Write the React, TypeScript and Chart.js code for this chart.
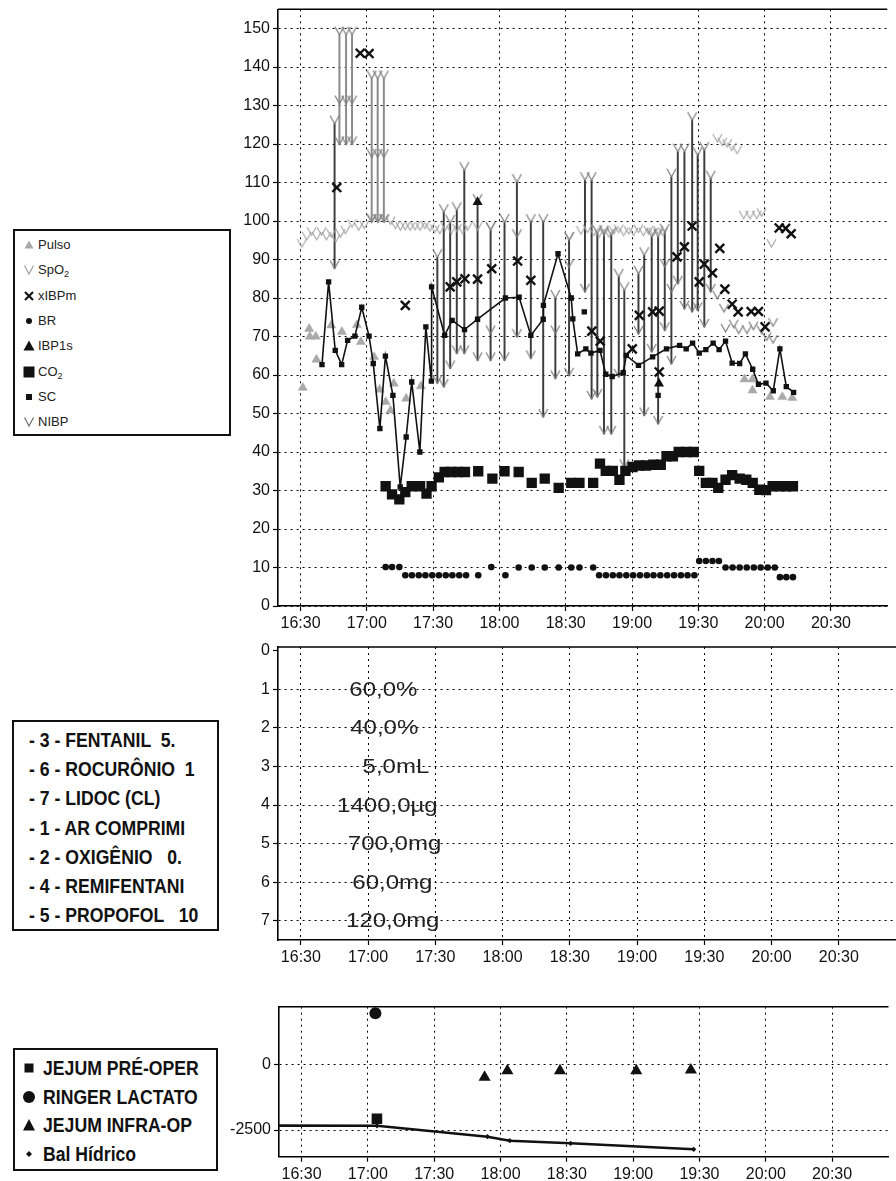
import React, { useEffect, useRef } from "react";
import { Chart, registerables } from "chart.js";

Chart.register(...registerables);

const FONT = "'Liberation Sans', Arial, Helvetica, sans-serif";

// time axis: minutes after 16:00
const X_MIN = 19.8;
const X_MAX = 295.5;
const TIME_TICKS = [30, 60, 90, 120, 150, 180, 210, 240, 270];
const VITAL_TICKS = [0, 10, 20, 30, 40, 50, 60, 70, 80, 90, 100, 110, 120, 130, 140, 150];
const DRUG_TICKS = [0, 1, 2, 3, 4, 5, 6, 7];
const BAL_TICKS = [-2500, 0];

type P = [number, number];

const PULSO: P[] = [
  [31.0, 56.7], [33.9, 72], [34.2, 70], [36.9, 70], [37.2, 64], [43.9, 72.9], [48.7, 71.2],
  [55.5, 73], [57.3, 68.6], [63.3, 64.7], [65.8, 56.2], [68.5, 53], [70.7, 50.8], [72.2, 57.8],
  [77.8, 53.9], [84.5, 57.1], [230.9, 58.9], [234.5, 58.9], [234.5, 56], [242.4, 54.3],
  [248.0, 54.3], [252.5, 54.1],
];

const SPO2: P[] = [
  [30.6, 93.2], [32.8, 95.1], [35.0, 96.3], [37.3, 95.1], [39.5, 96.3], [41.7, 95.1], [43.9, 95.8],
  [45.9, 94.5], [48.1, 95.8], [50.3, 96.7], [53.3, 98.4], [56.3, 97.6], [58.8, 98], [62.2, 99.7],
  [65.2, 99.7], [68.2, 99.7], [70.7, 99.1], [72.9, 98], [75.2, 97.6], [77.4, 97.7], [79.6, 97.6],
  [81.8, 97.7], [84.1, 97.6], [86.3, 98], [88.5, 97.4], [90.8, 97], [93.0, 96.7], [95.5, 97.6],
  [98.2, 96.7], [100.8, 97.2], [103.4, 96.7], [105.6, 97.6], [110.1, 97.6], [116.0, 97.7],
  [151.7, 95.1], [156.9, 96.6], [159.9, 97], [162.8, 96.2], [165.1, 95.8], [167.3, 96.2],
  [169.5, 95.8], [171.8, 96.6], [174.0, 97], [176.2, 96.2], [178.5, 96.6], [180.7, 96.2],
  [182.9, 97], [185.1, 96.2], [187.4, 96.6], [189.6, 96.2], [191.8, 96.6], [194.0, 96.2],
  [218.6, 120.5], [220.8, 119.6], [223.0, 119.2], [225.2, 118.3], [227.5, 117.5],
  [230.5, 100.6], [233.4, 100.6], [236.4, 100.6], [238.6, 101.2], [243.1, 93.2],
];

const XIBPM: P[] = [
  [46.4, 108.7], [57.0, 143.6], [61.0, 143.5], [77.4, 78.1], [97.7, 82.9], [100.7, 84.2],
  [104.4, 85], [110.1, 84.9], [116.5, 87.6], [128.2, 89.6], [134.2, 84.6], [161.8, 71.4],
  [165.6, 68.8], [180.1, 66.8], [183.3, 75.5], [189.3, 76.4], [192.3, 76.6], [192.3, 60.8],
  [200.3, 90.7], [203.7, 93.3], [207.2, 98.7], [210.4, 84.2], [212.7, 88.8], [216.4, 86.5],
  [219.7, 92.9], [222.0, 82.3], [225.3, 78.4], [228.0, 76.4], [233.9, 76.5], [237.2, 76.5],
  [240.2, 72.5], [246.6, 98.2], [249.5, 98.1], [252.0, 96.7],
];

const BR: P[] = [
  [68.5, 10.1], [71.4, 10.1], [74.7, 10.1],
  [77.4, 8], [80.4, 8], [83.5, 8], [86.5, 8], [89.6, 8], [92.6, 8], [95.7, 8], [98.7, 8], [101.8, 8], [104.9, 8],
  [110.4, 8], [116.3, 10.1], [122.7, 8], [128.7, 10], [134.6, 10], [140.5, 10], [146.8, 10],
  [152.5, 10], [156.2, 10], [162.4, 10],
  [165.1, 8], [168.2, 8], [171.3, 8], [174.3, 8], [177.4, 8], [180.5, 8], [183.6, 8], [186.7, 8],
  [189.7, 8], [192.8, 8], [195.9, 8], [199.0, 8], [202.1, 8], [205.1, 8], [208.2, 8],
  [210.4, 11.7], [213.4, 11.7], [216.4, 11.7], [219.3, 11.7],
  [222.3, 10], [225.5, 10], [228.7, 10], [231.9, 10], [235.1, 10], [238.2, 10], [241.4, 10], [244.6, 10],
  [246.9, 7.5], [249.8, 7.5], [252.8, 7.5],
];

const IBP1S: P[] = [[110.1, 104.9], [192.2, 57.8]];

const CO2: P[] = [
  [68.5, 31.1], [71.4, 29], [74.7, 27.7], [77.4, 29.6], [80.3, 31.1], [84.1, 31.1], [87.0, 29.2],
  [89.3, 31.1], [92.6, 33.4], [95.2, 34.8], [98.2, 34.8], [101.2, 34.8], [104.4, 34.8], [110.4, 35],
  [116.8, 33.1], [122.3, 35], [128.7, 34.8], [134.6, 32], [140.5, 33.1], [146.8, 30.7], [152.5, 32],
  [156.2, 32], [162.4, 32], [165.5, 37], [168.1, 35.1], [171.3, 35.1], [174.3, 32.8], [177.0, 35.1],
  [180.2, 36.1], [183.2, 36.5], [186.3, 36.5], [189.6, 36.7], [193.0, 36.7], [195.6, 38.9],
  [198.5, 38.9], [201.1, 40], [204.5, 40], [207.9, 40], [210.4, 35.1], [213.4, 32], [216.4, 32],
  [219.0, 30.7], [222.3, 32.8], [225.3, 34], [228.7, 33.1], [231.7, 32.8], [234.6, 32], [237.6, 30.2],
  [240.6, 30.1], [243.6, 31.1], [246.9, 31.1], [249.8, 31.1], [252.8, 31.1],
];

const SC: P[] = [
  [39.7, 62.7], [42.7, 84.2], [45.7, 66.4], [48.6, 62.7], [51.3, 69], [54.6, 70.1], [57.7, 77.6],
  [61.0, 70.1], [62.9, 63], [65.9, 46.1], [68.4, 64.9], [71.8, 54.7], [75.1, 30.9], [77.8, 43.9],
  [80.3, 58.2], [84.0, 40], [86.7, 72.5], [89.2, 58.4], [89.3, 82.9], [95.2, 70.3], [98.6, 74.2],
  [104.2, 71.8], [110.1, 74.5], [122.7, 80], [128.9, 80.2], [134.2, 70.3], [139.8, 74.5],
  [139.9, 78.1], [146.5, 91.5], [152.5, 80], [153.2, 74.6], [155.4, 65.5], [159.1, 66.8],
  [161.4, 65.7], [165.5, 66.4], [168.1, 60.2], [171.0, 59.6], [176.0, 60.6], [177.4, 65.1],
  [182.9, 62.5], [189.3, 64.7], [195.6, 66.8], [201.5, 67.7], [204.5, 66.8], [207.4, 68.3],
  [210.4, 65.7], [213.4, 66.6], [216.7, 68.3], [219.4, 66.6], [222.3, 68.8], [225.3, 63.1],
  [228.7, 63], [231.3, 65.5], [234.6, 61.5], [237.2, 57.6], [240.6, 57.9], [243.9, 55.9],
  [246.9, 66.8], [249.8, 57], [253.1, 55.5],
];

const SC_ALONE: P[] = [[158.4, 76.4], [191.8, 54.7]];

// time, systolic, diastolic
const NIBP: [number, number, number][] = [
  [45.4, 125.3, 87.7], [47.6, 148.4, 119.9], [50.6, 148.4, 119.9], [53.3, 148.4, 119.9],
  [62.2, 137, 99.7], [64.9, 137, 99.7], [67.7, 137, 99.7], [91.9, 90.6, 57.9], [94.8, 102.3, 56.9],
  [97.7, 99.5, 61.7], [100.7, 102.8, 65.6], [104.1, 113.2, 65.6], [110.1, 104.9, 63.8],
  [116.0, 97.6, 63.8], [122.3, 99.7, 63.8], [127.9, 110.1, 69.9], [134.2, 99.7, 64.3],
  [139.8, 99.7, 49.1], [145.3, 80, 59.1], [151.5, 95, 59.8], [158.7, 110.6, 81.6],
  [161.7, 110.6, 53.8], [164.3, 96.8, 54.3], [167.3, 96.8, 44.7], [170.6, 96.3, 44.7],
  [174.0, 85.5, 59.5], [176.5, 82, 36], [182.9, 86.3, 70.7], [185.5, 91.1, 49.5],
  [188.9, 95.9, 66], [191.8, 95.9, 47.3], [194.8, 97.2, 71.6], [197.8, 111.5, 62.9],
  [200.7, 118, 83.7], [203.7, 118, 77.2], [207.2, 126.2, 76.4], [209.7, 117.1, 76.8],
  [212.7, 118.4, 72.5], [215.6, 111, 81.6],
];

const NIBP_MID: P[] = [
  [47.6, 130.5], [50.6, 130.5], [53.3, 130.5], [62.2, 116.6], [64.9, 116.6], [67.7, 116.6],
  [116.0, 70.8], [127.9, 95.8], [145.3, 70.8], [151.5, 88], [194.8, 88.1], [197.8, 81.6],
  [218.6, 79.8], [221.6, 76.4], [222.3, 71.2], [226.0, 72.3], [228.3, 70.8], [232.0, 70.8],
  [234.9, 71.8], [238.6, 70.8], [240.9, 69], [243.8, 72.7], [243.8, 68.3],
];

const DRUG_TEXT = ["60,0%", "40,0%", "5,0mL", "1400,0µg", "700,0mg", "60,0mg", "120,0mg"];
const DRUG_TIME = [66.8, 67.2, 72.4, 68.6, 71.8, 70.8, 71.0];
const DRUG_ROW = [1, 2, 3, 4, 5, 6, 7];

const BAL: P[] = [[-10, -2330], [64.1, -2340], [114.1, -2755], [124.2, -2907], [151.7, -3006], [207.4, -3234]];
const RINGER: P[] = [[63.4, 1940]];
const JEJUM_PRE: P[] = [[64.1, -2070]];
const JEJUM_INFRA: P[] = [[112.8, -495], [123.1, -243], [146.9, -243], [181.4, -243], [206.1, -217]];

const LEGEND_DRUGS = [
  "- 3 - FENTANIL  5.",
  "- 6 - ROCURÔNIO  1",
  "- 7 - LIDOC (CL)",
  "- 1 - AR COMPRIMI",
  "- 2 - OXIGÊNIO   0.",
  "- 4 - REMIFENTANI",
  "- 5 - PROPOFOL   10",
];
const LEGEND_FLUIDS = ["JEJUM PRÉ-OPER", "RINGER LACTATO", "JEJUM INFRA-OP", "Bal Hídrico"];

const pts = (a: P[]) => a.map(([x, y]) => ({ x, y }));

const fmtTime = (v: number) => {
  const h = 16 + Math.floor(v / 60);
  const m = Math.round(v - Math.floor(v / 60) * 60);
  return `${h}:${String(m).padStart(2, "0")}`;
};

function makeV(color: string, w: number, h: number, lw: number) {
  const c = document.createElement("canvas");
  c.width = w + 2;
  c.height = 2 * h + 2;
  const g = c.getContext("2d")!;
  g.strokeStyle = color;
  g.lineWidth = lw;
  g.beginPath();
  g.moveTo(1, 1);
  g.lineTo(w / 2 + 1, h + 1);
  g.lineTo(w + 1, 1);
  g.stroke();
  return c;
}

const GRID_DASH = [2, 4];

function timeAxis(height: number) {
  return {
    type: "linear",
    min: X_MIN,
    max: X_MAX,
    offset: false,
    afterBuildTicks: (ax: any) => {
      ax.ticks = TIME_TICKS.map((value) => ({ value }));
    },
    afterFit: (ax: any) => {
      ax.height = height;
      ax.paddingLeft = 0;
      ax.paddingRight = 0;
    },
    ticks: {
      autoSkip: false,
      maxRotation: 0,
      padding: 3,
      color: "#111",
      font: { family: FONT, size: 16 },
      callback: (v: any) => fmtTime(Number(v)),
    },
    grid: { color: "#000", lineWidth: 1, tickLength: 5, tickColor: "#000", tickWidth: 1.2, offset: false },
    border: { color: "#000", width: 1.6, dash: GRID_DASH },
  };
}

function valueAxis(min: number, max: number, ticks: number[], extra: any = {}) {
  return {
    type: "linear",
    min,
    max,
    afterBuildTicks: (ax: any) => {
      ax.ticks = ticks.map((value) => ({ value }));
    },
    afterFit: (ax: any) => {
      ax.width = 78;
      ax.paddingTop = 0;
      ax.paddingBottom = 0;
    },
    ticks: {
      autoSkip: false,
      padding: 3,
      color: "#111",
      font: { family: FONT, size: 16 },
      callback: (v: any) => String(v),
    },
    grid: { color: "#000", lineWidth: 1, tickLength: 5, tickColor: "#000", tickWidth: 1.2 },
    border: { color: "#000", width: 1.6, dash: GRID_DASH },
    ...extra,
  };
}

const framePlugin = {
  id: "frameTop",
  afterDraw(chart: any) {
    const { ctx, chartArea: a } = chart;
    ctx.save();
    ctx.strokeStyle = "#000";
    ctx.lineWidth = 1.6;
    ctx.beginPath();
    ctx.moveTo(a.left, a.top);
    ctx.lineTo(a.right, a.top);
    ctx.stroke();
    ctx.restore();
  },
};

const drugTextPlugin = {
  id: "drugText",
  afterDatasetsDraw(chart: any) {
    const meta = chart.getDatasetMeta(0);
    const { ctx } = chart;
    ctx.save();
    ctx.font = `20px ${FONT}`;
    ctx.fillStyle = "#222";
    ctx.textAlign = "center";
    ctx.textBaseline = "middle";
    meta.data.forEach((el: any, i: number) => {
      ctx.save();
      ctx.translate(el.x, el.y + 1);
      ctx.scale(1.2, 1);
      ctx.fillText(DRUG_TEXT[i], 0, 0);
      ctx.restore();
    });
    ctx.restore();
  },
};

function baseOptions(padTop: number) {
  return {
    responsive: false,
    animation: false,
    events: [],
    layout: { padding: { top: padTop, left: 0, right: 0, bottom: 0 } },
    plugins: { legend: { display: false }, tooltip: { enabled: false } },
  };
}

function buildVitals() {
  const vSpo2 = makeV("#a0a0a0", 9, 8, 1.1);
  const vNibp = makeV("#7c7c7c", 9, 8, 1.2);
  return {
    type: "scatter",
    data: {
      datasets: [
        {
          type: "bar",
          label: "NIBP range",
          data: NIBP.map(([x, s, d]) => ({ x, y: [d, s] })),
          backgroundColor: (c: any) => (c.dataIndex >= 1 && c.dataIndex <= 6 ? "#8a8a8a" : "#3c3c3c"),
          borderWidth: 0,
          barThickness: 1.3,
          grouped: false,
          order: 20,
        },
        { label: "SpO2", data: pts(SPO2), pointStyle: vSpo2, pointRadius: 5, order: 15 },
        { label: "NIBP sys", data: NIBP.map(([x, s]) => ({ x, y: s })), pointStyle: vNibp, pointRadius: 5, order: 14 },
        { label: "NIBP dia", data: NIBP.map(([x, , d]) => ({ x, y: d })), pointStyle: vNibp, pointRadius: 5, order: 14 },
        { label: "NIBP mid", data: pts(NIBP_MID), pointStyle: vNibp, pointRadius: 5, order: 14 },
        {
          label: "Pulso",
          data: pts(PULSO),
          pointStyle: "triangle",
          pointRadius: 5.3,
          backgroundColor: "#a9a9a9",
          borderColor: "#a9a9a9",
          borderWidth: 0.5,
          order: 12,
        },
        {
          label: "CO2",
          data: pts(CO2),
          pointStyle: "rect",
          pointRadius: 7.3,
          backgroundColor: "#111",
          borderColor: "#111",
          borderWidth: 0,
          order: 10,
        },
        {
          label: "BR",
          data: pts(BR),
          pointStyle: "circle",
          pointRadius: 3.3,
          backgroundColor: "#111",
          borderColor: "#111",
          borderWidth: 0,
          order: 9,
        },
        {
          type: "line",
          label: "SC",
          data: pts(SC),
          borderColor: "#111",
          borderWidth: 1.6,
          pointStyle: "rect",
          pointRadius: 3.8,
          backgroundColor: "#111",
          pointBorderWidth: 0,
          tension: 0,
          order: 6,
        },
        {
          label: "SC isolated",
          data: pts(SC_ALONE),
          pointStyle: "rect",
          pointRadius: 3.8,
          backgroundColor: "#111",
          borderWidth: 0,
          order: 6,
        },
        {
          label: "xIBPm",
          data: pts(XIBPM),
          pointStyle: "crossRot",
          pointRadius: 6.3,
          borderColor: "#111",
          borderWidth: 2.4,
          order: 4,
        },
        {
          label: "IBP1s",
          data: pts(IBP1S),
          pointStyle: "triangle",
          pointRadius: 5.8,
          backgroundColor: "#111",
          borderColor: "#111",
          borderWidth: 0,
          order: 3,
        },
      ],
    },
    options: {
      ...baseOptions(9.3),
      scales: {
        x: timeAxis(34),
        y: valueAxis(0, 155, VITAL_TICKS),
      },
    },
    plugins: [framePlugin],
  };
}

function buildDrugs() {
  return {
    type: "scatter",
    data: {
      datasets: [
        {
          label: "drugs",
          data: DRUG_TIME.map((x, i) => ({ x, y: DRUG_ROW[i] })),
          pointRadius: 0,
        },
      ],
    },
    options: {
      ...baseOptions(17),
      scales: {
        x: timeAxis(30),
        y: valueAxis(-0.1, 7.5, DRUG_TICKS, {
          reverse: true,
          grid: {
            color: (c: any) => (c.tick && c.tick.value === 0 ? "rgba(0,0,0,0)" : "#000"),
            lineWidth: 1,
            tickLength: 5,
            tickColor: "#000",
            tickWidth: 1.2,
          },
        }),
      },
    },
    plugins: [framePlugin, drugTextPlugin],
  };
}

function buildFluids() {
  return {
    type: "scatter",
    data: {
      datasets: [
        {
          type: "line",
          label: "Bal Hídrico",
          data: pts(BAL),
          borderColor: "#111",
          borderWidth: 2.6,
          pointStyle: "rectRot",
          pointRadius: 2.6,
          backgroundColor: "#111",
          pointBorderWidth: 0,
          tension: 0,
          order: 5,
        },
        {
          label: "JEJUM PRÉ-OPER",
          data: pts(JEJUM_PRE),
          pointStyle: "rect",
          pointRadius: 7.5,
          backgroundColor: "#111",
          borderWidth: 0,
          order: 2,
        },
        {
          label: "RINGER LACTATO",
          data: pts(RINGER),
          pointStyle: "circle",
          pointRadius: 6,
          backgroundColor: "#111",
          borderWidth: 0,
          order: 2,
        },
        {
          label: "JEJUM INFRA-OP",
          data: pts(JEJUM_INFRA),
          pointStyle: "triangle",
          pointRadius: 7,
          backgroundColor: "#111",
          borderWidth: 0,
          order: 2,
        },
      ],
    },
    options: {
      ...baseOptions(16.7),
      scales: {
        x: timeAxis(24.3),
        y: valueAxis(-3516, 2192, BAL_TICKS),
      },
    },
    plugins: [framePlugin],
  };
}

function ChartCanvas(props: { left: number; top: number; width: number; height: number; build: () => any }) {
  const ref = useRef<HTMLCanvasElement>(null);
  useEffect(() => {
    const chart = new Chart(ref.current as HTMLCanvasElement, props.build());
    return () => chart.destroy();
  }, []);
  const { left, top, width, height } = props;
  return (
    <div style={{ position: "absolute", left, top, width, height }}>
      <canvas ref={ref} width={width} height={height} style={{ width, height, display: "block" }} />
    </div>
  );
}

function Sym({ kind }: { kind: string }) {
  const s = { display: "block" } as any;
  switch (kind) {
    case "Pulso":
      return <svg width="14" height="14" style={s}><polygon points="7,2.5 11.5,10.5 2.5,10.5" fill="#a9a9a9" /></svg>;
    case "SpO2":
      return <svg width="14" height="14" style={s}><polyline points="2.5,2.5 7,11 11.5,2.5" fill="none" stroke="#9a9a9a" strokeWidth="1.1" /></svg>;
    case "xIBPm":
      return (
        <svg width="14" height="14" style={s}>
          <line x1="3" y1="3" x2="11" y2="11" stroke="#111" strokeWidth="2.2" />
          <line x1="11" y1="3" x2="3" y2="11" stroke="#111" strokeWidth="2.2" />
        </svg>
      );
    case "BR":
      return <svg width="14" height="14" style={s}><circle cx="7" cy="7" r="3" fill="#111" /></svg>;
    case "IBP1s":
      return <svg width="14" height="14" style={s}><polygon points="7,1.5 12.5,11.5 1.5,11.5" fill="#111" /></svg>;
    case "CO2":
      return <svg width="14" height="14" style={s}><rect x="1.5" y="1.5" width="11" height="11" fill="#111" /></svg>;
    case "SC":
      return <svg width="14" height="14" style={s}><rect x="4" y="4" width="6" height="6" fill="#111" /></svg>;
    case "NIBP":
      return <svg width="14" height="14" style={s}><polyline points="2.5,2.5 7,11 11.5,2.5" fill="none" stroke="#6e6e6e" strokeWidth="1.2" /></svg>;
    case "sq":
      return <svg width="14" height="14" style={s}><rect x="2.5" y="2.5" width="9" height="9" fill="#111" /></svg>;
    case "ci":
      return <svg width="14" height="14" style={s}><circle cx="7" cy="7" r="6" fill="#111" /></svg>;
    case "tr":
      return <svg width="14" height="14" style={s}><polygon points="7,1 13,12.5 1,12.5" fill="#111" /></svg>;
    default:
      return <svg width="14" height="14" style={s}><polygon points="7,4 10,7 7,10 4,7" fill="#111" /></svg>;
  }
}

const VITAL_ITEMS: { key: string; label: React.ReactNode }[] = [
  { key: "Pulso", label: "Pulso" },
  { key: "SpO2", label: <>SpO<sub style={{ fontSize: 9, verticalAlign: "-3px" }}>2</sub></> },
  { key: "xIBPm", label: "xIBPm" },
  { key: "BR", label: "BR" },
  { key: "IBP1s", label: "IBP1s" },
  { key: "CO2", label: <>CO<sub style={{ fontSize: 9, verticalAlign: "-3px" }}>2</sub></> },
  { key: "SC", label: "SC" },
  { key: "NIBP", label: "NIBP" },
];

const boxStyle = (left: number, top: number, width: number, height: number) =>
  ({
    position: "absolute",
    left,
    top,
    width,
    height,
    border: "2px solid #111",
    boxSizing: "border-box",
    background: "#fff",
  }) as any;

const narrowText = (left: number, top: number) =>
  ({
    position: "absolute",
    left,
    top: top - 13,
    height: 26,
    lineHeight: "26px",
    fontFamily: FONT,
    fontWeight: "bold",
    fontSize: 21,
    color: "#111",
    whiteSpace: "pre",
    transform: "scaleX(0.84)",
    transformOrigin: "left center",
  }) as any;

export default function App() {
  return (
    <div
      style={{
        position: "absolute",
        left: 0,
        top: 0,
        width: 896,
        height: 1181,
        overflow: "hidden",
        background: "#fff",
        fontFamily: FONT,
      }}
    >
      <ChartCanvas left={200} top={0} width={696} height={640} build={buildVitals} />
      <ChartCanvas left={200} top={630} width={696} height={340} build={buildDrugs} />
      <ChartCanvas left={201} top={990} width={695} height={191} build={buildFluids} />

      <div style={boxStyle(12.5, 229, 218, 207)}>
        {VITAL_ITEMS.map((it, i) => (
          <div key={it.key}>
            <div style={{ position: "absolute", left: 16 - 7 - 2, top: 245 + 25.3 * i - 229 - 7 - 2 }}>
              <Sym kind={it.key} />
            </div>
            <div
              style={{
                position: "absolute",
                left: 38 - 14.5,
                top: 245 + 25.3 * i - 229 - 2 - 9,
                height: 18,
                lineHeight: "18px",
                fontSize: 13,
                color: "#222",
                whiteSpace: "nowrap",
              }}
            >
              {it.label}
            </div>
          </div>
        ))}
      </div>

      <div style={boxStyle(12, 720, 207, 211)} />
      {LEGEND_DRUGS.map((t, i) => (
        <div key={t} style={narrowText(28.6, 740 + 29.2 * i)}>
          {t}
        </div>
      ))}

      <div style={boxStyle(12.5, 1048, 205, 123)} />
      {LEGEND_FLUIDS.map((t, i) => (
        <div key={t}>
          <div style={{ position: "absolute", left: 28.6 - 7, top: 1068 + 28.7 * i - 7 }}>
            <Sym kind={["sq", "ci", "tr", "di"][i]} />
          </div>
          <div style={narrowText(43, 1068 + 28.7 * i)}>{t}</div>
        </div>
      ))}
    </div>
  );
}
